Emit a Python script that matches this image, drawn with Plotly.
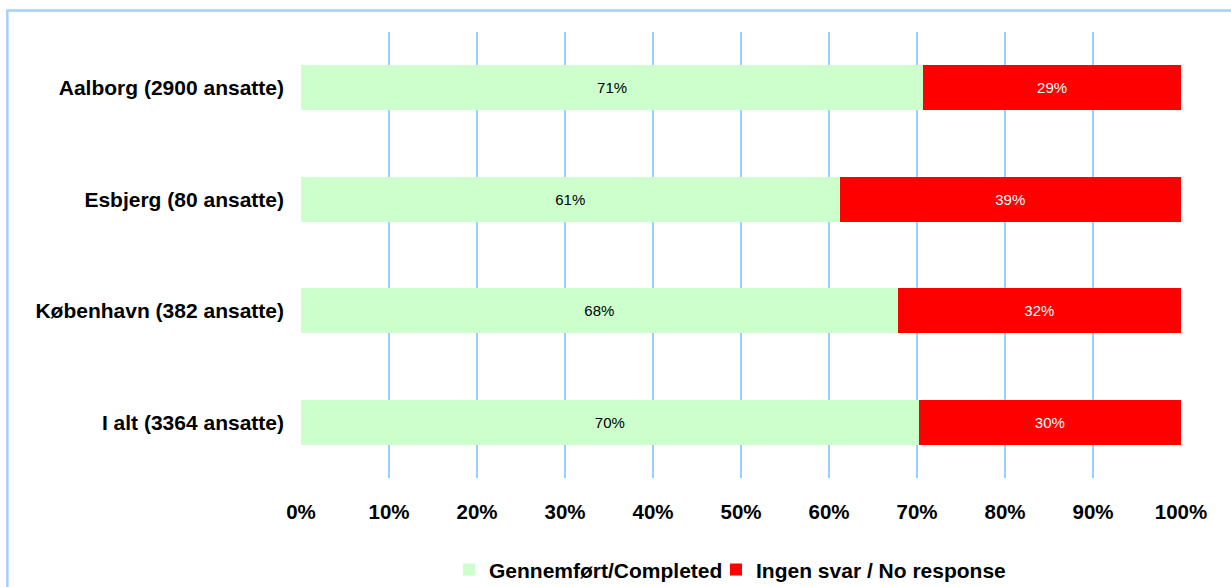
import plotly.graph_objects as go

categories = ["Aalborg (2900 ansatte)", "Esbjerg (80 ansatte)", "København (382 ansatte)", "I alt (3364 ansatte)"]
completed = [70.7, 61.2, 67.8, 70.2]
no_response = [29.3, 38.8, 32.2, 29.8]
tick_vals = [0, 10, 20, 30, 40, 50, 60, 70, 80, 90, 100]
tick_text = ["0%", "10%", "20%", "30%", "40%", "50%", "60%", "70%", "80%", "90%", "100%"]

fig = go.Figure()
fig.add_trace(go.Bar(
    y=categories, x=completed, orientation="h", name="Gennemført/Completed",
    marker=dict(color="#CCFFCC", line=dict(width=0)),
    texttemplate="%{x:.0f}%", textposition="inside", insidetextanchor="middle",
    textfont=dict(family="Arial", size=15, color="#000000"),
    legend="legend", showlegend=True,
))
fig.add_trace(go.Bar(
    y=categories, x=no_response, orientation="h", name="Ingen svar / No response",
    marker=dict(color="#FF0000", line=dict(width=0)),
    texttemplate="%{x:.0f}%", textposition="inside", insidetextanchor="middle",
    textfont=dict(family="Arial", size=15, color="#FFFFFF"),
    legend="legend2", showlegend=True,
))

legend_font = dict(family="Arial", size=21, color="#000000", weight="bold")

fig.update_layout(
    showlegend=True,
    barmode="stack",
    bargap=0.6,
    width=1231, height=587,
    margin=dict(l=301, r=50, t=32, b=109, autoexpand=False),
    paper_bgcolor="white", plot_bgcolor="white",
    font=dict(family="Arial", color="#000000"),
    uniformtext=dict(minsize=15, mode="show"),
    legend=dict(
        visible=True, bgcolor="rgba(0,0,0,0)",
        orientation="h", x=0.1682, xanchor="left", y=-0.206, yanchor="middle",
        font=legend_font, itemwidth=30,
    ),
    legend2=dict(
        visible=True, bgcolor="rgba(0,0,0,0)",
        orientation="h", x=0.4716, xanchor="left", y=-0.206, yanchor="middle",
        font=legend_font, itemwidth=30,
    ),
    xaxis=dict(
        range=[0, 100], tickvals=tick_vals, ticktext=tick_text,
        showgrid=True, gridcolor="#99CCFF", gridwidth=2,
        zeroline=False, showline=False, automargin=False,
        tickfont=dict(family="Arial", size=20.5, color="#000000", weight="bold"),
        ticklabelstandoff=19, fixedrange=True,
    ),
    yaxis=dict(
        autorange="reversed", automargin=False,
        tickfont=dict(family="Arial", size=21, color="#000000", weight="bold"),
        ticklabelstandoff=16, showgrid=False, zeroline=False, showline=False,
        fixedrange=True,
    ),
    shapes=[dict(
        type="rect", xref="paper", yref="paper",
        x0=-0.3337, x1=1.2, y0=-0.5, y1=1.0482,
        line=dict(color="#A6CFFF", width=2.5), fillcolor="rgba(0,0,0,0)", layer="below",
    )],
)

fig.write_html("out.html", config={"displayModeBar": False},
               post_script="document.body.style.margin='0px';")
